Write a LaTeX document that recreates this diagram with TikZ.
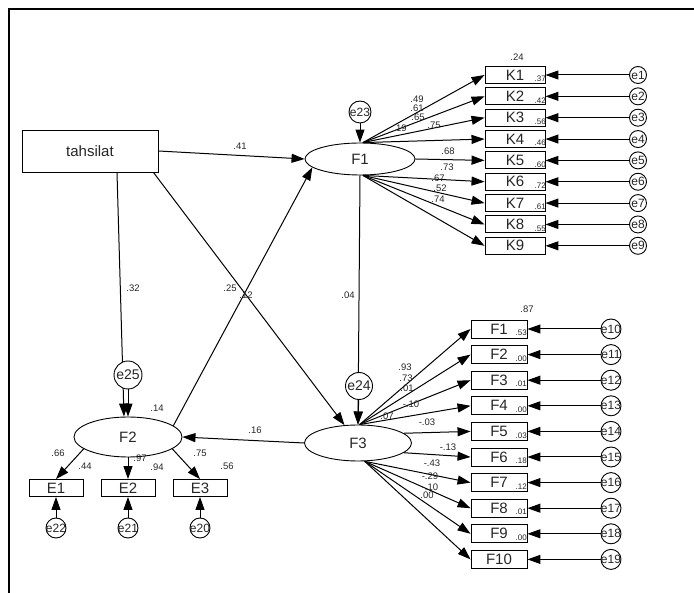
\documentclass[tikz,border=0pt]{standalone}
\usepackage{fontspec}
\setmainfont{Liberation Sans}
\usetikzlibrary{arrows.meta,shapes.geometric}

\begin{document}
\begin{tikzpicture}[
  x=1pt, y=-1pt,
  every node/.style={text=black!85},
  obs/.style={draw, line width=0.9pt, minimum width=60pt, minimum height=17pt, inner sep=0pt,
              font=\fontsize{15}{15}\selectfont},
  lat/.style={draw, line width=0.9pt, ellipse, inner sep=0pt, font=\fontsize{15}{15}\selectfont},
  err/.style={draw, line width=0.9pt, circle, fill=white, inner sep=0pt, minimum size=17pt,
              font=\fontsize{12}{12}\selectfont},
  arr/.style={-{Triangle[length=13pt,width=9pt]}, line width=1pt},
  num/.style={inner sep=0pt, font=\fontsize{9.5}{9.5}\selectfont},
  rsq/.style={num, anchor=east, font=\fontsize{8}{8}\selectfont}
]
  \useasboundingbox (0,0) rectangle (694,593);
  \draw[line width=2.5pt] (9,593) -- (9,9) -- (694,9);

  % latent and exogenous variables
  \node[draw, line width=0.9pt, minimum width=136pt, minimum height=42pt, font=\fontsize{15}{15}\selectfont]
    (tahsilat) at (90,151) {tahsilat};
  \node[lat, minimum width=110pt, minimum height=32pt] (F1) at (360,159) {F1};
  \node[lat, minimum width=108pt, minimum height=40pt] (F2) at (128,437) {F2};
  \node[lat, minimum width=107pt, minimum height=36pt] (F3) at (358,443) {F3};

  % K indicators of F1
  \foreach \i/\r in {1/.37, 2/.42, 3/.56, 4/.46, 5/.60, 6/.72, 7/.61, 8/.55, 9/} {
    \node[obs] (K\i) at (515, {53.65+21.35*\i}) {K\i};
    \node[rsq] (rK\i) at (546, {57.65+21.35*\i}) {\r};
    \node[err] (e\i) at (638, {53.65+21.35*\i}) {\makebox[0pt]{e\i}};
    \draw[arr] (e\i) -- (K\i);
  }
  \foreach \i in {1,...,4}
    \draw[arr] (F1.80) -- (K\i.west);
  \draw[arr] (F1.east) -- (K5.west);
  \foreach \i in {6,...,9}
    \draw[arr] (F1.-80) -- (K\i.west);

  % F indicators of F3
  \foreach \j/\r in {1/.53, 2/.00, 3/.01, 4/.00, 5/.03, 6/.18, 7/.12, 8/.01, 9/.00, 10/} {
    \pgfmathtruncatemacro\k{\j+9}
    \node[obs, minimum width=56pt, minimum height=18pt] (FF\j) at (499, {303.4+25.6*\j}) {F\j};
    \node[rsq] (rF\j) at (527, {307.4+25.6*\j}) {\r};
    \node[err, minimum size=20pt] (e\k) at (611, {303.4+25.6*\j}) {\makebox[0pt]{e\k}};
    \draw[arr] (e\k) -- (FF\j);
  }
  \foreach \j in {1,...,4}
    \draw[arr] (F3.85) -- (FF\j.west);
  \draw[arr] (F3.12) -- (FF5.west);
  \draw[arr] (F3.-12) -- (FF6.west);
  \foreach \j in {7,...,10}
    \draw[arr] (F3.-70) -- (FF\j.west);

  % E indicators of F2
  \foreach \i/\x/\k in {1/56/22, 2/128/21, 3/200/20} {
    \node[obs, minimum width=54pt] (E\i) at (\x,488) {E\i};
    \node[err, minimum size=20pt] (e\k) at (\x,528) {\makebox[0pt]{e\k}};
    \draw[arr] (e\k) -- (E\i.south);
  }
  \draw[arr] (F2.195) -- (E1.north);
  \draw[arr] (F2.south) -- (E2.north);
  \draw[arr] (F2.-15) -- (E3.north);

  % structural paths
  \draw[arr] (tahsilat.east) -- (F1.west);
  \draw[arr] ([xshift=27pt]tahsilat.south) -- ([xshift=-4pt]F2.north);
  \draw[arr] ([xshift=-5pt]tahsilat.south east) -- (F3);
  \draw[arr] (F2.14) -- (F1.190);
  \draw[arr] (F3.west) -- (F2.east);
  \draw[arr] (F1.south) -- (F3.north);

  % disturbances
  \node[err, minimum size=22pt] (e23) at (360,112) {\makebox[0pt]{e23}};
  \node[err, minimum size=27pt, font=\fontsize{14}{14}\selectfont] (e24) at (359,386) {\makebox[0pt]{e24}};
  \node[err, minimum size=28pt, font=\fontsize{14}{14}\selectfont] (e25) at (128,375) {\makebox[0pt]{e25}};
  \draw[arr] (e23) -- (F1.north);
  \draw[arr] (e24) -- (F3.north);
  \draw[arr] (e25) -- (F2.north);

  % estimates
  \foreach \v/\x/\y [count=\n] in {.41/240/146, .32/133/288, .25/230/288, .12/246/295,
      .04/348/295, .16/255/430, .14/157/408, .19/400/128, .07/387/416, .24/517/57, .87/527/309,
      .66/58/453, .44/85/466, .97/140/458, .94/157/467, .75/200/453, .56/227/466,
      .49/417/99, .61/417/108, .65/418/117, .75/434/125, .68/448/151, .73/447/167,
      .67/438/178, .52/440/188, .74/438/199,
      .93/405/367, .73/406/378, .01/407/388, -.10/411/404, -.03/427/422, -.13/448/447,
      -.43/432/463, -.29/430/476, -.10/430/487, .00/427/495}
    \node[num] (est\n) at (\x,\y) {\v};
\end{tikzpicture}
\end{document}
